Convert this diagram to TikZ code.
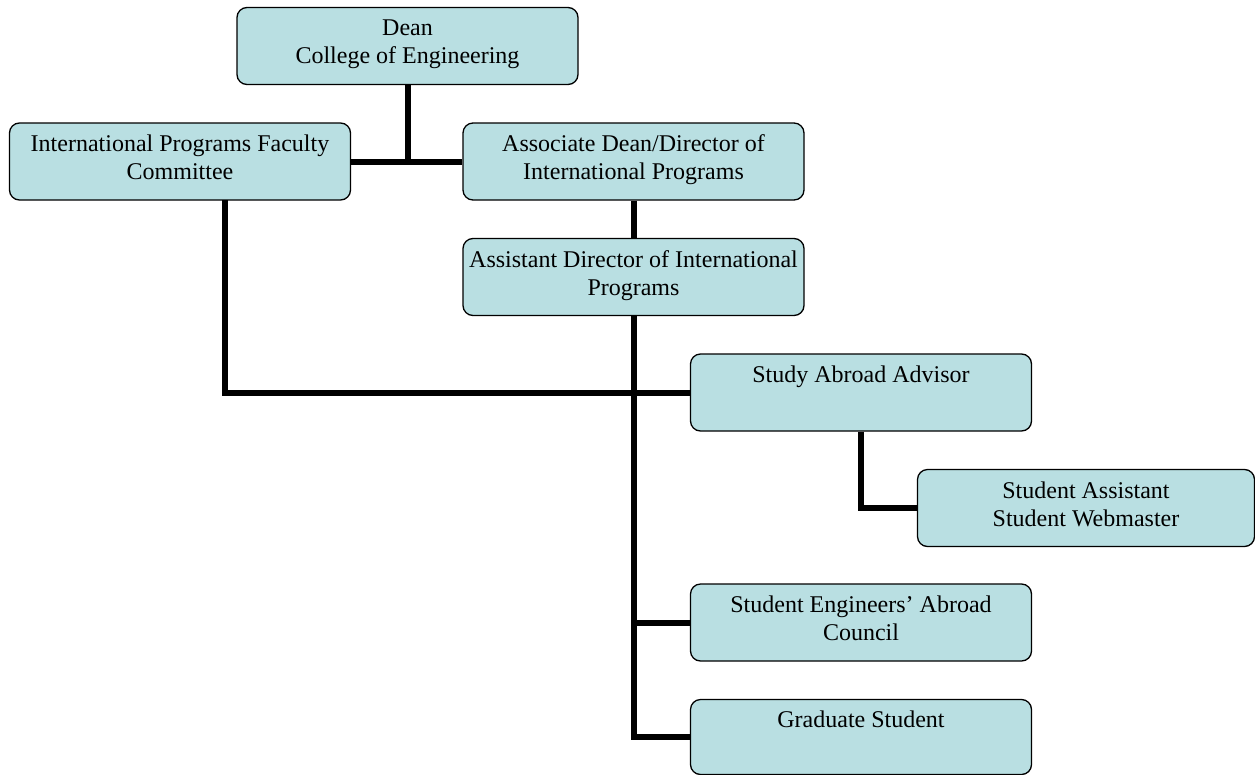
\documentclass[tikz,border=0pt]{standalone}
\usepackage{fontspec}
\setmainfont{Liberation Serif}
\usepackage{tikz}
\usetikzlibrary{positioning}

\definecolor{boxfill}{RGB}{185,223,226}

\begin{document}
\begin{tikzpicture}[x=1pt,y=1pt,
  unit/.style={draw,line width=1.3pt,rounded corners=10pt,fill=boxfill,align=center,
    minimum width=341pt,minimum height=77pt,inner sep=3pt,
    font=\fontsize{24}{28}\selectfont,execute at end node=\strut},
  link/.style={line width=6pt}]
\useasboundingbox (0,0) rectangle (1255,-774);

% Draw the nodes used for the chart
\node[unit](dean) at (407.5,-46){Dean\\College of Engineering};
\node[unit](ipfc) at (180,-161.5){International Programs Faculty\\Committee};
\node[unit,right of=ipfc,node distance=453.5pt](assoc){Associate Dean/Director of\\International Programs};
\node[unit,below of=assoc,node distance=115.5pt](asst){Assistant Director of International\\Programs};
\node[unit](study) at (861,-392.5){Study Abroad Advisor\\};
\node[unit,minimum width=337pt](stuasst) at (1086,-508){Student Assistant\\Student Webmaster};
\node[unit,below of=study,node distance=230pt](seac){Student Engineers’ Abroad\\Council};
\node[unit,below of=seac,node distance=114.5pt,minimum height=75pt](grad){Graduate Student\\};
\coordinate(drop) at (225,-200);

% Draw the lines between the nodes
\draw[link] (dean) -- (dean |- ipfc.east);
\draw[link] (ipfc) -- (assoc);
\draw[link] (assoc) -- (asst);
\draw[link] (asst) |- (grad);
\draw[link] (asst |- seac) -- (seac);
\draw[link] (drop) |- (study);
\draw[link] (study) |- (stuasst);
\end{tikzpicture}
\end{document}
